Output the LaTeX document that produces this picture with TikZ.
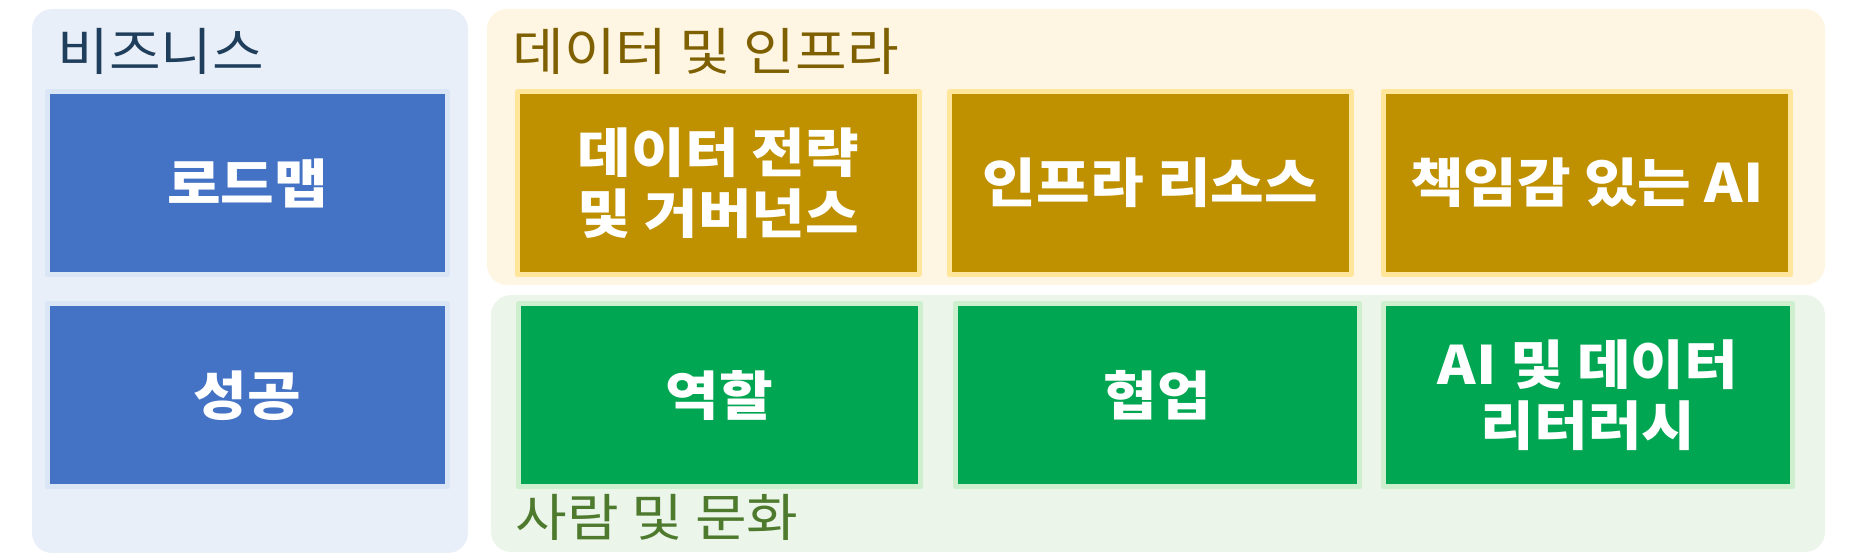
\documentclass[tikz,border=0pt]{standalone}
\usepackage{fontspec}
\setmainfont{Noto Sans CJK KR}[FakeStretch=1.1]
\definecolor{bizback}{HTML}{E9EFF8}
\definecolor{bizfill}{HTML}{4472C4}
\definecolor{bizline}{HTML}{DAE6F6}
\definecolor{bizhead}{HTML}{1F3E5C}
\definecolor{databack}{HTML}{FEF6E3}
\definecolor{datafill}{HTML}{BF9000}
\definecolor{dataline}{HTML}{FFE69A}
\definecolor{datahead}{HTML}{7F6000}
\definecolor{peopleback}{HTML}{ECF5EA}
\definecolor{peoplefill}{HTML}{00A651}
\definecolor{peopleline}{HTML}{CDEFCD}
\definecolor{peoplehead}{HTML}{4E7A2E}
\tikzset{
	panel/.style={rounded corners=10pt,inner sep=0pt},
	tile/.style={line width=2.5pt,inner sep=0pt,minimum height=91.5pt,text=white,align=center,font=\fontsize{26.5}{30.5}\selectfont\bfseries},
	panelhead/.style={anchor=base west,inner sep=0pt,font=\fontsize{25.5}{30}\selectfont}
}

\begin{document}
\begin{tikzpicture}[line cap=round,line join=round,x=0.5pt,y=-0.5pt]
		\useasboundingbox (0,0) rectangle (1854,560);
		\node[panel,fill=bizback,minimum width=218pt,minimum height=272pt] (biz) at (250,281) {};
		\node[panel,fill=databack,minimum width=669pt,minimum height=138pt] (data) at (1156,147) {};
		\node[panel,fill=peopleback,minimum width=667pt,minimum height=128.5pt] (people) at (1158,423.5) {};
		\node[panelhead,text=bizhead] (bizhead) at (57,71) {비즈니스};
		\node[panelhead,text=datahead] (datahead) at (512,71) {데이터 및 인프라};
		\node[panelhead,text=peoplehead] (peoplehead) at (515,537) {사람 및 문화};
		\node[tile,fill=bizfill,draw=bizline,minimum width=200pt] (roadmap) at (247.5,183) {로드맵};
		\node[tile,fill=bizfill,draw=bizline,minimum width=200pt] (success) at (247.5,395.5) {성공};
		\node[tile,fill=datafill,draw=dataline,minimum width=201pt] (strategy) at (718.5,183) {데이터 전략\\및 거버넌스};
		\node[tile,fill=datafill,draw=dataline,minimum width=201pt] (infra) at (1150.5,183) {인프라 리소스};
		\node[tile,fill=datafill,draw=dataline,minimum width=203.5pt] (responsible) at (1587,183) {책임감 있는 AI};
		\node[tile,fill=peoplefill,draw=peopleline,minimum width=201pt] (roles) at (719.5,395.5) {역할};
		\node[tile,fill=peoplefill,draw=peopleline,minimum width=202pt] (collab) at (1157.5,395.5) {협업};
		\node[tile,fill=peoplefill,draw=peopleline,minimum width=204.5pt] (literacy) at (1588,395.5) {AI 및 데이터\\리터러시};
\end{tikzpicture}
\end{document}
